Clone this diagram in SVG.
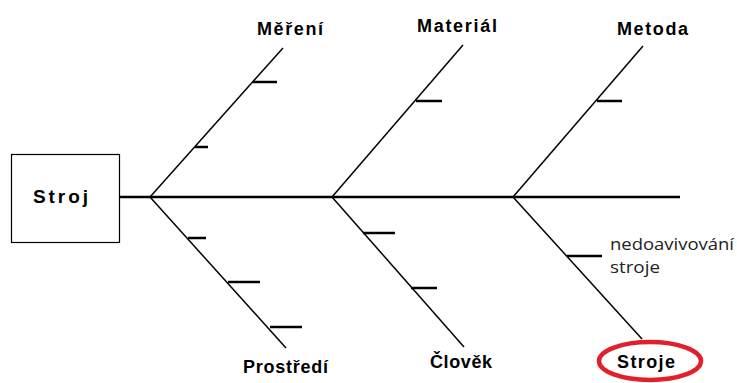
<svg xmlns="http://www.w3.org/2000/svg" width="737" height="383" viewBox="0 0 737 383">
<style>
.lbl{font-family:"Liberation Sans",Arial,sans-serif;font-weight:bold;font-size:18px;fill:#000}
.br{stroke:#000;stroke-width:1.5;fill:none}
.tk{stroke:#000;stroke-width:2.5;fill:none}
.note{font-family:"Open Sans","Liberation Sans",sans-serif;font-size:17px;fill:#222}
</style>
<rect width="737" height="383" fill="#fff"/>
<g id="connectors">
<line x1="119" y1="197" x2="680" y2="197" stroke="#000" stroke-width="2.5"/>
<line class="br" x1="150" y1="197" x2="283" y2="48"/>
<line class="br" x1="150" y1="197" x2="286" y2="348"/>
<line class="br" x1="332" y1="197" x2="463" y2="45"/>
<line class="br" x1="332" y1="197" x2="464" y2="347"/>
<line class="br" x1="513" y1="197" x2="643" y2="46"/>
<line class="br" x1="513" y1="197" x2="642" y2="339"/>
<line class="tk" x1="253" y1="82" x2="277" y2="82"/>
<line class="tk" x1="195" y1="147" x2="208" y2="147"/>
<line class="tk" x1="188" y1="238" x2="206" y2="238"/>
<line class="tk" x1="228" y1="282" x2="260" y2="282"/>
<line class="tk" x1="270" y1="327" x2="302" y2="327"/>
<line class="tk" x1="416" y1="101" x2="442" y2="101"/>
<line class="tk" x1="597" y1="101" x2="622" y2="101"/>
<line class="tk" x1="363" y1="233" x2="395" y2="233"/>
<line class="tk" x1="411" y1="288" x2="437" y2="288"/>
<line class="tk" x1="567" y1="256" x2="602" y2="256"/>
</g>
<g id="stroj">
<rect x="11.5" y="154.5" width="108" height="88" fill="#fff" stroke="#000" stroke-width="1.2"/>
<text class="lbl" x="33" y="203" style="font-size:19px" textLength="55" lengthAdjust="spacing">Stroj</text>
</g>
<g id="mereni"><text class="lbl" x="257" y="35" textLength="66" lengthAdjust="spacing">Měření</text></g>
<g id="material"><text class="lbl" x="417" y="32" textLength="80" lengthAdjust="spacing">Materiál</text></g>
<g id="metoda"><text class="lbl" x="617" y="35" textLength="71" lengthAdjust="spacing">Metoda</text></g>
<g id="prostredi"><text class="lbl" x="243" y="373" textLength="85" lengthAdjust="spacing">Prostředí</text></g>
<g id="clovek"><text class="lbl" x="430" y="368" textLength="62" lengthAdjust="spacing">Člověk</text></g>
<g id="stroje">
<ellipse cx="650" cy="361" rx="51" ry="19" fill="none" stroke="#e2202c" stroke-width="4.5"/>
<text class="lbl" x="617" y="368" textLength="58" lengthAdjust="spacing">Stroje</text>
</g>
<g id="nedoavivovani">
<text class="note" x="610" y="250" textLength="124" lengthAdjust="spacingAndGlyphs">nedoavivování</text>
<text class="note" x="610" y="273" textLength="50" lengthAdjust="spacingAndGlyphs">stroje</text>
</g>
</svg>
